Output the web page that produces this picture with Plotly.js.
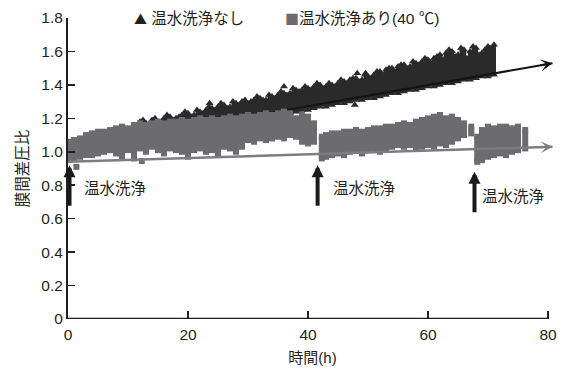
<!DOCTYPE html>
<html><head><meta charset="utf-8">
<script src="https://cdn.plot.ly/plotly-3.0.1.min.js"></script>
<style>body{margin:0;background:#fff}#chart{width:563px;height:373px}</style>
</head><body><div id="chart"></div>
<script>
// ---- data ----
// 温水洗浄なし (triangles): per-hour spread of points (upper / lower edge)
const triT  = [2,3,4,5,6,7,8,9,10,11,12,13,14,15,16,17,18,19,20,21,22,23,24,25,26,27,28,29,30,31,32,33,34,35,36,37,38,39,40,41,42,43,44,45,46,47,48,49,50,51,52,53,54,55,56,57,58,59,60,61,62,63,64,65,66,67,68,69,70,71];
const triHi = [1.07,1.09,1.10,1.11,1.11,1.12,1.13,1.13,1.13,1.16,1.18,1.17,1.19,1.18,1.20,1.21,1.20,1.22,1.23,1.22,1.24,1.25,1.26,1.27,1.28,1.27,1.29,1.30,1.29,1.31,1.32,1.31,1.33,1.34,1.35,1.35,1.37,1.37,1.38,1.39,1.40,1.39,1.40,1.41,1.42,1.43,1.44,1.43,1.45,1.46,1.48,1.49,1.50,1.51,1.52,1.51,1.53,1.54,1.55,1.56,1.58,1.59,1.60,1.58,1.61,1.60,1.62,1.59,1.63,1.64];
const triLo = [1.00,1.01,1.01,1.02,1.03,1.03,1.04,1.04,1.05,1.06,1.07,1.07,1.08,1.09,1.09,1.10,1.11,1.11,1.12,1.13,1.13,1.14,1.15,1.15,1.16,1.17,1.17,1.18,1.19,1.19,1.20,1.21,1.21,1.22,1.23,1.23,1.24,1.25,1.25,1.26,1.27,1.27,1.28,1.29,1.29,1.30,1.31,1.31,1.32,1.32,1.33,1.34,1.35,1.35,1.36,1.37,1.37,1.38,1.39,1.39,1.40,1.41,1.41,1.42,1.43,1.43,1.44,1.45,1.45,1.46];
// half-hour samples between the hourly ones (upper edge)
const triHalfT  = [11.5,12.5,13.5,14.5,15.5,16.5,17.5,18.5,19.5,20.5,21.5,22.5,23.5,24.5,25.5,26.5,27.5,28.5,29.5,30.5,31.5,32.5,33.5,34.5,35.5,36.5,37.5,38.5,39.5,40.5,41.5,42.5,43.5,44.5,45.5,46.5,47.5,48.5,49.5,50.5,51.5,52.5,53.5,54.5,55.5,56.5,57.5,58.5,59.5,60.5,61.5,62.5,63.5,64.5,65.5,66.5,67.5,68.5,69.5,70.5];
const triHalfHi = [1.15,1.19,1.16,1.20,1.17,1.22,1.19,1.21,1.24,1.21,1.25,1.23,1.27,1.25,1.29,1.26,1.30,1.28,1.31,1.30,1.33,1.31,1.34,1.32,1.36,1.34,1.38,1.36,1.39,1.37,1.41,1.38,1.41,1.39,1.43,1.41,1.44,1.42,1.46,1.44,1.48,1.46,1.50,1.48,1.52,1.50,1.54,1.52,1.56,1.53,1.57,1.55,1.61,1.57,1.62,1.56,1.63,1.58,1.61,1.62];
const triOutT = [23.6,36.0,48.2,49.6,47.8];
const triOutY = [1.29,1.39,1.47,1.47,1.28];

// 温水洗浄あり(40 ℃) (squares): per-hour spread of points
const sqT  = [0,1,2,3,4,5,6,7,8,9,10,11,12,13,14,15,16,17,18,19,20,21,22,23,24,25,26,27,28,29,30,31,32,33,34,35,36,37,38,39,40,41,
              42.3,43,44,45,46,47,48,49,50,51,52,53,54,55,56,57,58,59,60,61,62,63,64,65,66,67.2,
              68.2,69,70,71,72,73,74,75,76.2];
const sqHi = [1.06,1.07,1.08,1.10,1.11,1.12,1.12,1.13,1.14,1.15,1.14,1.16,1.17,1.16,1.17,1.18,1.17,1.18,1.18,1.19,1.18,1.19,1.20,1.19,1.20,1.19,1.20,1.21,1.20,1.21,1.22,1.21,1.22,1.23,1.22,1.23,1.24,1.23,1.20,1.22,1.21,1.17,
              1.09,1.10,1.11,1.11,1.12,1.12,1.13,1.12,1.13,1.14,1.14,1.15,1.15,1.16,1.17,1.16,1.18,1.19,1.20,1.21,1.22,1.20,1.21,1.19,1.17,1.15,
              1.09,1.13,1.15,1.14,1.15,1.15,1.14,1.15,1.13];
const sqLo = [0.95,0.96,0.97,0.98,0.98,0.99,1.00,1.01,0.99,0.97,1.01,0.96,1.02,1.00,1.03,1.01,0.99,1.02,1.01,1.00,0.97,1.01,1.02,1.00,1.01,0.99,1.03,1.02,1.00,1.03,1.07,1.06,1.08,1.07,1.08,1.09,1.08,1.10,1.09,1.06,1.05,1.06,
              0.96,0.97,0.98,0.99,0.98,1.00,1.01,0.99,1.01,1.02,1.00,1.02,1.03,1.04,1.03,1.04,1.02,1.03,1.04,1.03,1.05,1.04,1.06,1.08,1.10,1.11,
              0.94,0.95,0.97,0.98,0.99,0.98,1.00,1.01,1.02];
const sqOutT = [1.4,12.3];
const sqOutY = [0.91,0.945];

// trend arrows
const trendT      = [0,80.75];
const trendNoWash = [1.02,1.53];
const trendWash   = [0.94,1.03];

// 温水洗浄 events
const washT = [0.25,41.6,67.75];
const washY = [0.92,0.92,0.88];
const washLabel = '温水洗浄';
const washLabelT = [2.4,43.9,68.6];
const washLabelY = [0.78,0.78,0.73];

const xTickVals = [0,20,40,60,80];
const yTickVals = [0,0.2,0.4,0.6,0.8,1.0,1.2,1.4,1.6,1.8];
const yTickText = ['0','0.2','0.4','0.6','0.8','1.0','1.2','1.4','1.6','1.8'];
const seriesNames = ['温水洗浄なし','温水洗浄あり(40 ℃)'];
const xTitle = '時間(h)';
const yTitle = '膜間差圧比';

// ---- drawing ----
const FONT = 'Liberation Sans, Arial, "Noto Sans CJK JP", sans-serif';
const CJK = 'Noto Sans CJK JP';
const TXT = '#231f20';
const DARK = 'rgb(42,42,42)';
const GRAY = 'rgb(108,108,110)';

function columns(t, lo, hi){
  const x=[], y=[];
  for(let i=0;i<t.length;i++){ x.push(t[i],t[i],null); y.push(lo[i],hi[i],null); }
  return {x,y};
}
const triCol = columns(triT, triLo, triHi);
const triHalfLo = triHalfT.map(t => triLo[triT.indexOf(Math.floor(t))]);
const triCol2 = columns(triHalfT, triHalfLo, triHalfHi);
const sqCol  = columns(sqT, sqLo, sqHi);

const traces = [
  {type:'scatter', mode:'lines', x:triCol.x, y:triCol.y, line:{color:DARK,width:4}, hoverinfo:'skip', showlegend:false},
  {type:'scatter', mode:'lines', x:triCol2.x, y:triCol2.y, line:{color:DARK,width:3}, hoverinfo:'skip', showlegend:false},
  {type:'scatter', mode:'markers', x:triT.concat(triT,triHalfT,triOutT), y:triHi.concat(triLo,triHalfHi,triOutY),
   marker:{symbol:'triangle-up', size:7, color:DARK}, name:seriesNames[0], showlegend:false},
  {type:'scatter', mode:'lines', x:trendT, y:trendNoWash, line:{color:'#141414',width:2}, showlegend:false},
  {type:'scatter', mode:'lines', x:sqCol.x, y:sqCol.y, line:{color:GRAY,width:6}, hoverinfo:'skip', showlegend:false},
  {type:'scatter', mode:'markers', x:sqT.concat(sqT,sqOutT), y:sqHi.concat(sqLo,sqOutY),
   marker:{symbol:'square', size:6, color:GRAY}, name:seriesNames[1], showlegend:false},
  {type:'scatter', mode:'lines', x:trendT, y:trendWash, line:{color:'rgb(125,125,127)',width:2.5}, showlegend:false}
];

const ann = [];
const slope = (s) => (s[1]-s[0])/(trendT[1]-trendT[0]);
ann.push({x:trendT[1], y:trendNoWash[1], ax:trendT[1]-2.25, ay:trendNoWash[1]-2.25*slope(trendNoWash),
  axref:'x', ayref:'y', xref:'x', yref:'y', text:'', showarrow:true, arrowhead:3, arrowsize:1, arrowwidth:2, arrowcolor:'#141414'});
ann.push({x:trendT[1], y:trendWash[1], ax:trendT[1]-2.25, ay:trendWash[1]-2.25*slope(trendWash),
  axref:'x', ayref:'y', xref:'x', yref:'y', text:'', showarrow:true, arrowhead:3, arrowsize:1, arrowwidth:2, arrowcolor:'rgb(125,125,127)'});
for(let i=0;i<washT.length;i++){
  ann.push({x:washT[i], y:washY[i], xref:'x', yref:'y', ax:0, ay:42, text:'', showarrow:true,
    arrowhead:2, arrowsize:0.6, arrowwidth:4, arrowcolor:'#1a1a1a'});
  ann.push({x:washLabelT[i], y:washLabelY[i], xref:'x', yref:'y', text:washLabel, showarrow:false,
    xanchor:'left', yanchor:'middle', font:{family:FONT,size:15.5,color:TXT}});
}
ann.push({x:10.6, y:1.8, xref:'x', yref:'y', xanchor:'left', yanchor:'middle', showarrow:false,
  text:'<span style="font-family:\''+CJK+'\';font-size:13px">▲</span> '+seriesNames[0], font:{family:FONT,size:15.5,color:TXT}});
ann.push({x:35.9, y:1.8, xref:'x', yref:'y', xanchor:'left', yanchor:'middle', showarrow:false,
  text:'<span style="color:'+GRAY+';font-family:\''+CJK+'\';font-size:14px">■</span>'+seriesNames[1], font:{family:FONT,size:15.5,color:TXT}});

const layout = {
  width:563, height:373,
  margin:{l:68, r:6, t:18, b:54},
  paper_bgcolor:'#fff', plot_bgcolor:'#fff',
  showlegend:false,
  font:{family:FONT, color:TXT, size:15.5},
  xaxis:{range:[0,81.5], tickvals:xTickVals, ticktext:xTickVals.map(String), ticks:'inside', ticklen:8, tickwidth:1.5,
    tickcolor:TXT, showline:false, showgrid:false, zeroline:false, fixedrange:true,
    tickfont:{family:FONT,size:15.5,color:TXT}, ticklabelstandoff:4,
    title:{text:xTitle, font:{family:FONT,size:15,color:TXT}, standoff:10}},
  yaxis:{range:[0,1.8], tickvals:yTickVals, ticktext:yTickText, ticks:'inside', ticklen:7, tickwidth:1.5,
    tickcolor:TXT, showline:true, linecolor:TXT, linewidth:2, showgrid:false, zeroline:false, fixedrange:true,
    tickfont:{family:FONT,size:15.5,color:TXT},
    title:{text:yTitle, font:{family:FONT,size:15.5,color:TXT}, standoff:9}},
  shapes:[{type:'line', xref:'x', yref:'y', x0:0, x1:xTickVals[xTickVals.length-1], y0:0, y1:0, line:{color:TXT,width:2.5}}],
  annotations:ann
};
Plotly.newPlot('chart', traces, layout, {staticPlot:true, displayModeBar:false});
</script>
</body></html>
